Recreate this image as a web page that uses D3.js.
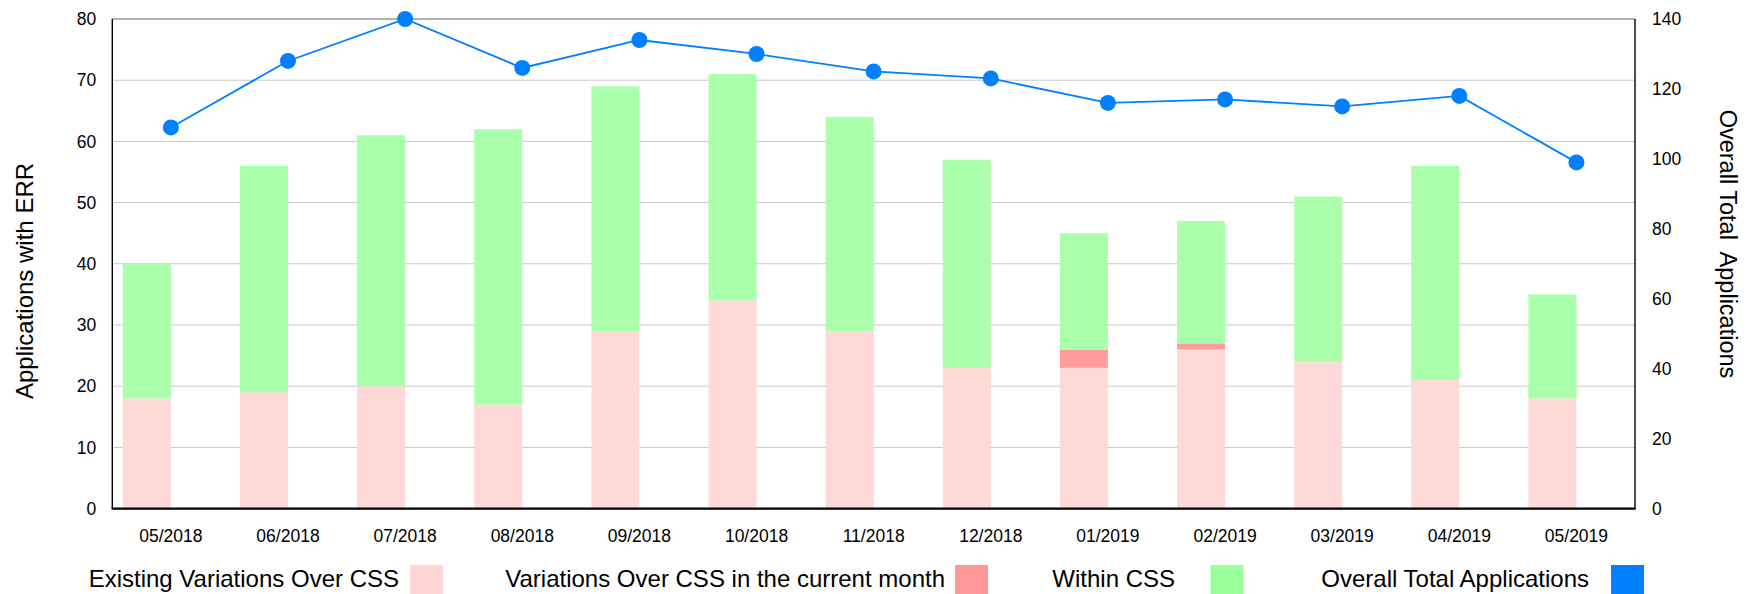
<!DOCTYPE html>
<html>
<head>
<meta charset="utf-8">
<script src="https://cdn.jsdelivr.net/npm/d3@7"></script>
<style>
    body { margin: 0; background: #fff; }
    svg { display: block; font-family: "Liberation Sans", Arial, sans-serif; }
</style>
</head>
<body>
<svg id="chart" width="1760" height="594"></svg>
<script>
// ----- data
const months = ['05/2018', '06/2018', '07/2018', '08/2018', '09/2018', '10/2018', '11/2018',
    '12/2018', '01/2019', '02/2019', '03/2019', '04/2019', '05/2019'];
const existingOverCss = [18, 19, 20, 17, 29, 34, 29, 23, 23, 26, 24, 21, 18];
const currentMonthOverCss = [0, 0, 0, 0, 0, 0, 0, 0, 3, 1, 0, 0, 0];
const withinCss = [22, 37, 41, 45, 40, 37, 35, 34, 19, 20, 27, 35, 17];
const overallTotal = [109, 128, 140, 126, 134, 130, 125, 123, 116, 117, 115, 118, 99];
const leftTicks = [0, 10, 20, 30, 40, 50, 60, 70, 80];
const rightTicks = [0, 20, 40, 60, 80, 100, 120, 140];

const seriesKeys = ['existing', 'current', 'within'];
const seriesNames = ['Existing Variations Over CSS', 'Variations Over CSS in the current month', 'Within CSS'];
const barColors = { existing: '#ffd8d8', current: '#ff9c9c', within: '#aaffaa' };
const legendColors = ['#ffd6d6', '#ff9999', '#99ff99', '#0080ff'];

const rows = months.map((m, i) => ({
    month: m,
    existing: existingOverCss[i],
    current: currentMonthOverCss[i],
    within: withinCss[i],
    total: overallTotal[i]
}));

// ----- layout
const svg = d3.select('#chart');
const plotLeft = 112.3, plotRight = 1635, plotTop = 19, plotBottom = 508.6;

const x = d3.scaleBand().domain(months).range([plotLeft, plotRight]);
const yLeft = d3.scaleLinear().domain([0, 80]).range([plotBottom, plotTop]);
const yRight = d3.scaleLinear().domain([0, 140]).range([plotBottom, plotTop]);
const barW = x.bandwidth() * 0.41;
const cx = d => x(d) + x.bandwidth() / 2;

// ----- grid
svg.append('g')
    .selectAll('line')
    .data(leftTicks.filter(t => t > 0 && t < 80))
    .join('line')
    .attr('x1', plotLeft).attr('x2', plotRight)
    .attr('y1', d => yLeft(d)).attr('y2', d => yLeft(d))
    .attr('stroke', '#c8c8c8').attr('stroke-width', 1);

svg.append('line')
    .attr('x1', plotLeft).attr('x2', plotRight)
    .attr('y1', plotTop).attr('y2', plotTop)
    .attr('stroke', '#999').attr('stroke-width', 1.5);

// ----- stacked bars
const stacked = d3.stack().keys(seriesKeys)(rows);

svg.append('g')
    .selectAll('g')
    .data(stacked)
    .join('g')
    .attr('fill', s => barColors[s.key])
    .selectAll('rect')
    .data(s => s)
    .join('rect')
    .attr('x', d => cx(d.data.month) - barW)
    .attr('width', barW)
    .attr('y', d => yLeft(d[1]))
    .attr('height', d => yLeft(d[0]) - yLeft(d[1]));

// ----- axes lines
svg.append('line')
    .attr('x1', plotLeft).attr('x2', plotLeft).attr('y1', plotTop).attr('y2', plotBottom)
    .attr('stroke', '#000').attr('stroke-width', 1.4);
svg.append('line')
    .attr('x1', plotRight).attr('x2', plotRight).attr('y1', plotTop).attr('y2', plotBottom)
    .attr('stroke', '#000').attr('stroke-width', 1.4);
svg.append('line')
    .attr('x1', plotLeft - 0.7).attr('x2', plotRight + 0.7).attr('y1', plotBottom).attr('y2', plotBottom)
    .attr('stroke', '#000').attr('stroke-width', 2.2);

// ----- overall total line
const line = d3.line()
    .x(d => cx(d.month))
    .y(d => yRight(d.total));

svg.append('path')
    .datum(rows)
    .attr('fill', 'none')
    .attr('stroke', '#0080ff')
    .attr('stroke-width', 1.8)
    .attr('d', line);

svg.append('g')
    .selectAll('circle')
    .data(rows)
    .join('circle')
    .attr('cx', d => cx(d.month))
    .attr('cy', d => yRight(d.total))
    .attr('r', 8)
    .attr('fill', '#0080ff');

// ----- axes text
const tickFont = g => g.selectAll('text')
    .attr('font-size', '17.5px')
    .attr('fill', '#000')
    .attr('font-family', '"Liberation Sans", Arial, sans-serif');

svg.append('g')
    .attr('transform', `translate(${plotLeft},0)`)
    .call(d3.axisLeft(yLeft).tickValues(leftTicks).tickSize(0).tickPadding(16))
    .call(g => g.select('.domain').remove())
    .call(tickFont);

svg.append('g')
    .attr('transform', `translate(${plotRight},0)`)
    .call(d3.axisRight(yRight).tickValues(rightTicks).tickSize(0).tickPadding(17))
    .call(g => g.select('.domain').remove())
    .call(tickFont);

svg.append('g')
    .attr('transform', `translate(0,${plotBottom})`)
    .call(d3.axisBottom(x).tickSize(0).tickPadding(21))
    .call(g => g.select('.domain').remove())
    .call(tickFont);

// ----- axis titles
svg.append('text')
    .attr('transform', 'translate(33,281) rotate(-90)')
    .attr('text-anchor', 'middle')
    .attr('font-size', '24px')
    .text('Applications with ERR');

svg.append('text')
    .attr('transform', 'translate(1720,244) rotate(90)')
    .attr('text-anchor', 'middle')
    .attr('font-size', '23.5px')
    .style('white-space', 'pre')
    .text('Overall Total  Applications');

// ----- legend
const legendNames = seriesNames.concat(['Overall Total Applications']);
const legendBoxX = [410, 955, 1210.5, 1611];
const legendTextEnd = [399, 945, 1175, 1589];

const legend = svg.append('g')
    .selectAll('g')
    .data(legendNames)
    .join('g');

legend.append('rect')
    .attr('x', (d, i) => legendBoxX[i])
    .attr('y', 565)
    .attr('width', 33)
    .attr('height', 29)
    .attr('fill', (d, i) => legendColors[i]);

legend.append('text')
    .attr('x', (d, i) => legendTextEnd[i])
    .attr('y', 587)
    .attr('text-anchor', 'end')
    .attr('font-size', '24px')
    .text(d => d);
</script>
</body>
</html>
